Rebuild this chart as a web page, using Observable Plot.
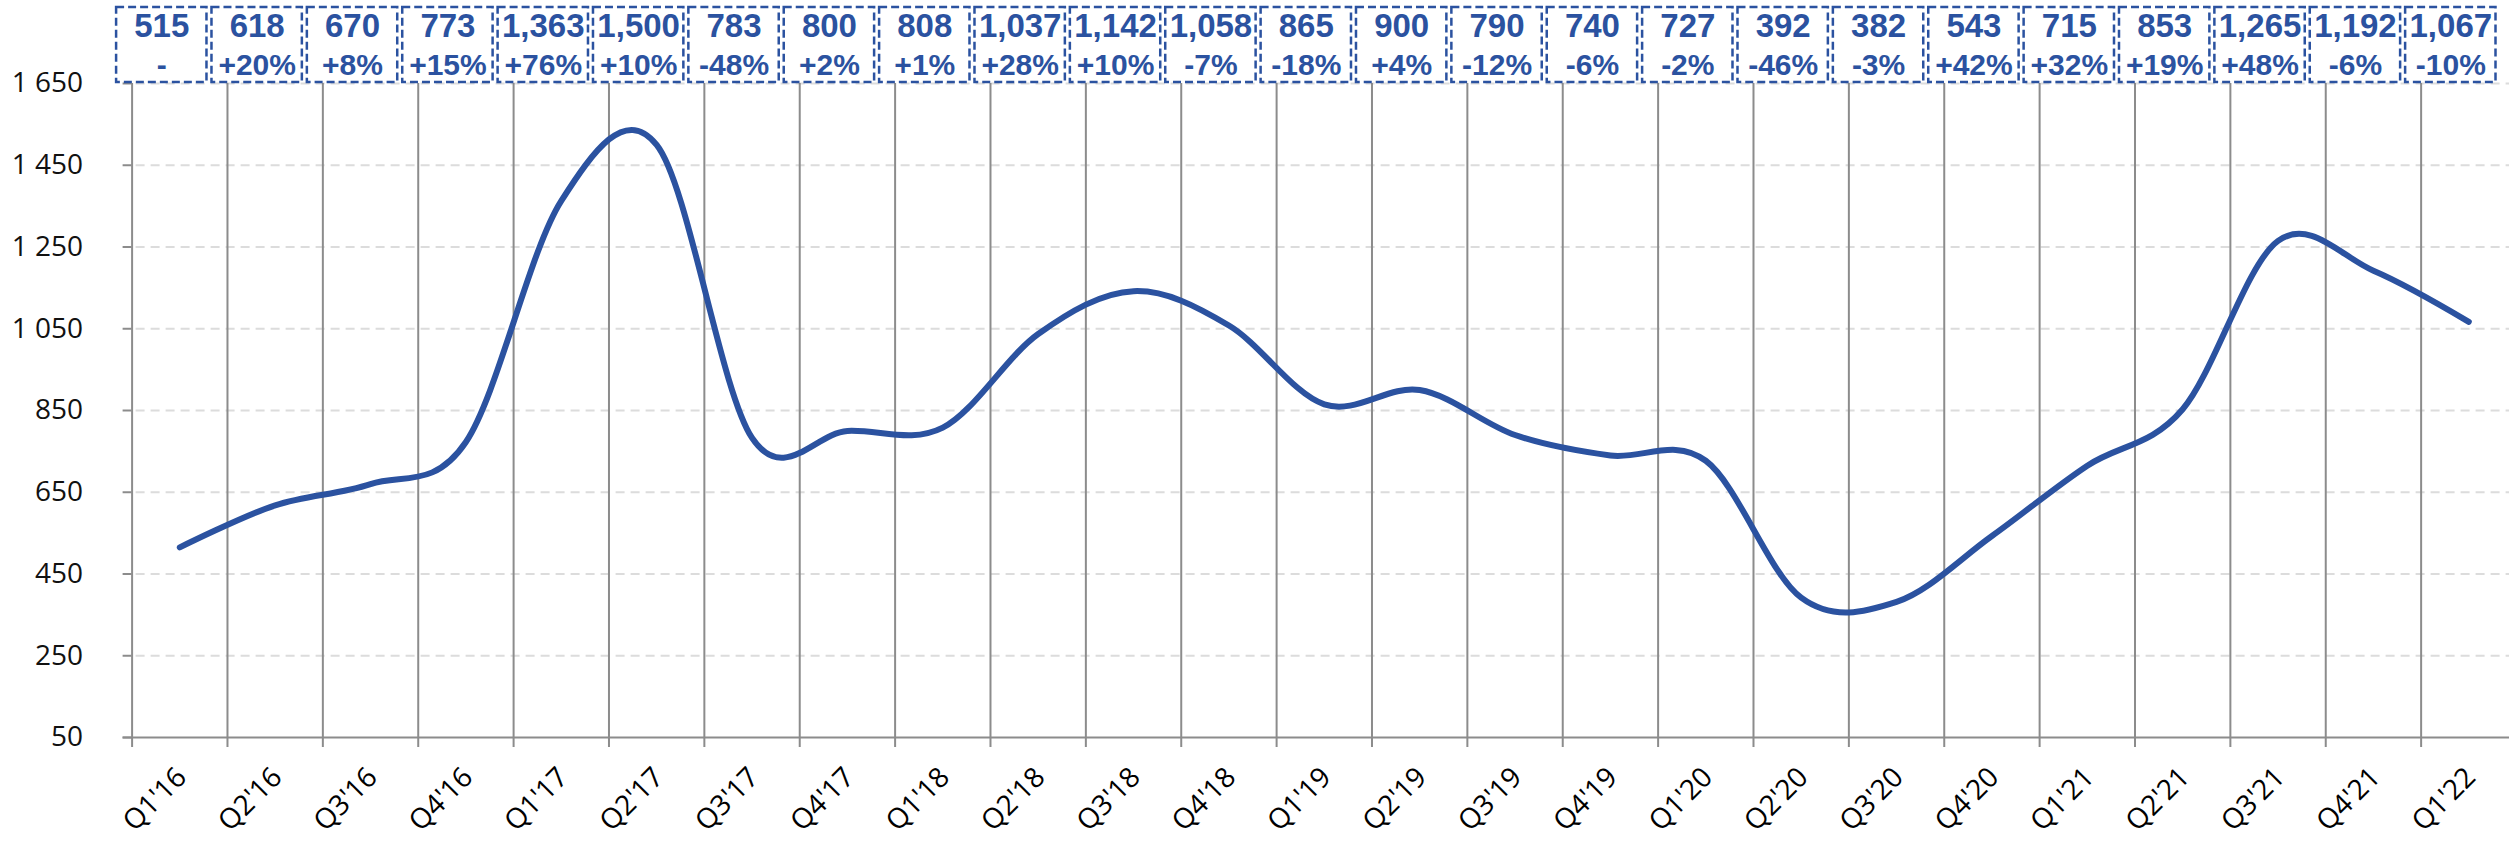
<!DOCTYPE html>
<html>
<head>
<meta charset="utf-8">
<script src="https://cdn.jsdelivr.net/npm/d3@7"></script>
<script src="https://cdn.jsdelivr.net/npm/@observablehq/plot@0.6"></script>
<style>
  html, body { margin: 0; padding: 0; background: #ffffff; }
  #chart svg { display: block; }
</style>
</head>
<body>
<div id="chart"></div>
<script>
const quarters = ["Q1'16","Q2'16","Q3'16","Q4'16","Q1'17","Q2'17","Q3'17","Q4'17","Q1'18","Q2'18","Q3'18","Q4'18","Q1'19","Q2'19","Q3'19","Q4'19","Q1'20","Q2'20","Q3'20","Q4'20","Q1'21","Q2'21","Q3'21","Q4'21","Q1'22"];
const volumes = [515, 618, 670, 773, 1363, 1500, 783, 800, 808, 1037, 1142, 1058, 865, 900, 790, 740, 727, 392, 382, 543, 715, 853, 1265, 1192, 1067];
const changes = [null, 20, 8, 15, 76, 10, -48, 2, 1, 28, 10, -7, -18, 4, -12, -6, -2, -46, -3, 42, 32, 19, 48, -6, -10];
const yTicks = [50, 250, 450, 650, 850, 1050, 1250, 1450, 1650];

const blue = "#2B52A0";
const grid = "#8c8c8c";
const data = quarters.map((q, i) => ({i, q, v: volumes[i], c: changes[i]}));
const bandEdges = quarters.map((q, i) => i - 0.5);

const pctText = d => d.c == null ? "-" : (d.c > 0 ? "+" : "") + d.c + "%";

const chart = Plot.plot({
  width: 2509,
  height: 843,
  marginTop: 83,
  marginBottom: 106,
  marginLeft: 131.6,
  marginRight: 0,
  style: {fontFamily: "'Open Sans', sans-serif", background: "#ffffff", overflow: "hidden"},
  x: {domain: [-0.5, quarters.length - 0.5], range: [131.6, 2516], axis: null},
  y: {domain: [yTicks[0], yTicks[yTicks.length - 1]], axis: null},
  marks: [
    Plot.ruleY(yTicks.slice(1), {stroke: "#dcdcdc", strokeWidth: 2, strokeDasharray: "9,6", insetLeft: 4}),
    Plot.ruleX(bandEdges, {stroke: grid, strokeWidth: 2, insetBottom: -10}),
    Plot.ruleY([yTicks[0]], {stroke: grid, strokeWidth: 2, insetLeft: -9}),
    Plot.axisY(yTicks, {
      label: null,
      tickSize: 9, tickPadding: 40, stroke: grid, strokeWidth: 2,
      fontSize: 28, fill: "#111",
      tickFormat: d => d3.format(",")(d).replace(",", " ")
    }),
    Plot.line(data, {x: "i", y: "v", curve: "cardinal", stroke: blue, strokeWidth: 6, strokeLinecap: "round", strokeLinejoin: "round"}),
    Plot.text(data, {
      x: "i", text: "q", frameAnchor: "bottom", rotate: -45,
      textAnchor: "end", lineAnchor: "middle", dx: 2, dy: 35, fontSize: 28, fill: "#000"
    }),
    Plot.rect(data, {
      x1: d => d.i - 0.5, x2: d => d.i + 0.5,
      y1: () => yTicks[yTicks.length - 1], y2: () => yTicks[yTicks.length - 1],
      insetLeft: 2.5, insetRight: 2.5, insetTop: -75, dx: -18, dy: -1,
      fill: "#ffffff", stroke: blue, strokeWidth: 2.5, strokeDasharray: "8,4",
      ariaLabel: "boxes"
    }),
    Plot.text(data, {
      x: "i", text: d => d3.format(",")(d.v), frameAnchor: "top", lineAnchor: "middle", dx: -18, dy: -57,
      fontSize: 33, fontWeight: "bold", fill: blue, fontFamily: "'Liberation Sans', Arial, sans-serif"
    }),
    Plot.text(data, {
      x: "i", text: pctText, frameAnchor: "top", lineAnchor: "middle", dx: -18, dy: -18,
      fontSize: 30, fontWeight: "bold", fill: blue, fontFamily: "'Liberation Sans', Arial, sans-serif",
      ariaLabel: "pct"
    })
  ]
});

// drop shadow for boxes
const svg = d3.select(chart);
const defs = svg.insert("defs", ":first-child");
const f = defs.append("filter").attr("id", "boxshadow").attr("x", "-20%").attr("y", "-20%").attr("width", "150%").attr("height", "150%");
f.append("feDropShadow").attr("dx", 3).attr("dy", 4).attr("stdDeviation", 2.5).attr("flood-color", "#000").attr("flood-opacity", 0.35);
svg.select('g[aria-label="boxes"]').attr("filter", "url(#boxshadow)");

// smaller percent sign
svg.select('g[aria-label="pct"]').selectAll("text").each(function() {
  const t = this.textContent;
  if (t.endsWith("%")) {
    const sel = d3.select(this);
    sel.text(t.slice(0, -1));
    sel.append("tspan").attr("font-size", 23).text("%");
  }
});

document.getElementById("chart").appendChild(chart);
</script>
</body>
</html>
